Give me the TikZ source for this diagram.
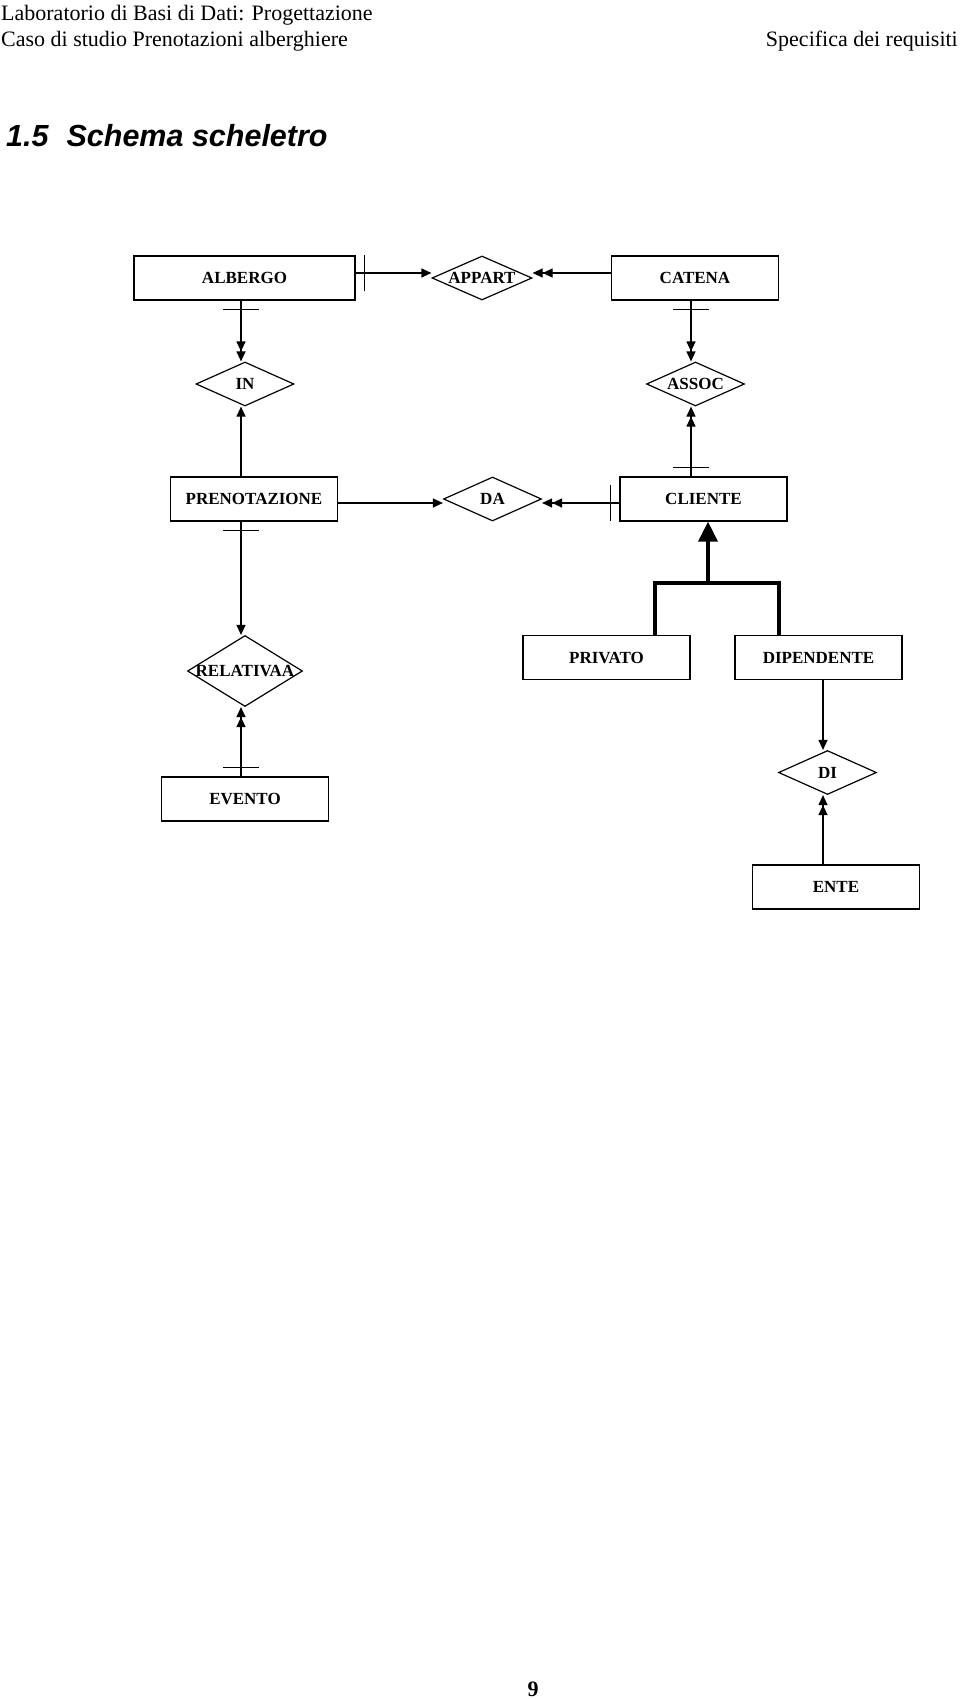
\documentclass[tikz,border=0pt]{standalone}
\usepackage{fontspec}
\setmainfont{Liberation Serif}
\newfontfamily\headsans{Liberation Sans}
\usetikzlibrary{arrows.meta,shapes.geometric,decorations.markings}
\tikzset{
  ent/.style={draw,line width=1.2pt,minimum width=167pt,minimum height=44pt,inner sep=0pt,
    font=\fontsize{17}{17}\selectfont\bfseries},
  rel/.style={diamond,draw,line width=1.2pt,minimum width=98pt,minimum height=44pt,inner sep=0pt,
    font=\fontsize{17}{17}\selectfont\bfseries},
  link/.style={line width=1.2pt},
  one/.style={-{Triangle[length=10pt,width=9pt]}},
  many/.style={-{Triangle[length=10pt,width=9pt]Triangle[length=10pt,width=9pt]}},
  onebar/.style={postaction={decorate},
    decoration={markings,mark=at position 9pt with {\draw[-,line width=1.2pt] (0,-18pt) -- (0,18pt);}}},
  gen/.style={line width=3.5pt},
  hdr/.style={inner sep=0pt,font=\fontsize{22}{26}\selectfont},
}

\begin{document}
\begin{tikzpicture}[x=1pt,y=-1pt]
  \useasboundingbox (0,0) rectangle (960,1699);
  % page header
  \node[hdr,anchor=base west] (lab) at (1,20.5) {Laboratorio di Basi di Dati: Progettazione};
  \node[hdr,anchor=base west] (caso) at (1,46.5) {Caso di studio Prenotazioni alberghiere};
  \node[hdr,anchor=base east] (spec) at (958,46.5) {Specifica dei requisiti};
  \node[inner sep=0pt,anchor=base west,font=\headsans\fontsize{30.5}{30.5}\selectfont\bfseries\itshape]
    (title) at (6,147) {1.5\hspace{18pt}Schema scheletro};
  % entities
  \node[ent,minimum width=221pt] (ALBERGO) at (244.5,278) {ALBERGO};
  \node[ent] (CATENA) at (695,278) {CATENA};
  \node[ent] (PRENOTAZIONE) at (254,499) {PRENOTAZIONE};
  \node[ent] (CLIENTE) at (703.5,499) {CLIENTE};
  \node[ent] (EVENTO) at (245,799) {EVENTO};
  \node[ent] (PRIVATO) at (606.5,657.5) {PRIVATO};
  \node[ent] (DIPENDENTE) at (818.5,657.5) {DIPENDENTE};
  \node[ent] (ENTE) at (836,887) {ENTE};
  % relationships
  \node[rel,minimum width=100pt] (APPART) at (482,278) {\makebox[0pt]{APPART}};
  \node[rel] (IN) at (245,384) {\makebox[0pt]{IN}};
  \node[rel] (ASSOC) at (695.5,384) {\makebox[0pt]{ASSOC}};
  \node[rel] (DA) at (492.5,499) {\makebox[0pt]{DA}};
  \node[rel,minimum width=115pt,minimum height=71pt] (RELATIVAA) at (245,671) {\makebox[0pt]{RELATIVAA}};
  \node[rel] (DI) at (827.5,772.5) {\makebox[0pt]{DI}};
  % rows and columns of the connectors
  \coordinate (rowT) at (0,273);
  \coordinate (rowM) at (0,503);
  \coordinate (colL) at (241,0);
  \coordinate (colR) at (691,0);
  \coordinate (colD) at (823,0);
  % top row
  \draw[link,one,onebar] (ALBERGO.east |- rowT) -- (APPART.west |- rowT);
  \draw[link,many] (CATENA.west |- rowT) -- (APPART.east |- rowT);
  % left column
  \draw[link,many,onebar] (ALBERGO.south -| colL) -- (IN.north -| colL);
  \draw[link,one] (PRENOTAZIONE.north -| colL) -- (IN.south -| colL);
  \draw[link,one,onebar] (PRENOTAZIONE.south -| colL) -- (RELATIVAA.north -| colL);
  \draw[link,many,onebar] (EVENTO.north -| colL) -- (RELATIVAA.south -| colL);
  % right column
  \draw[link,many,onebar] (CATENA.south -| colR) -- (ASSOC.north -| colR);
  \draw[link,many,onebar] (CLIENTE.north -| colR) -- (ASSOC.south -| colR);
  % middle row
  \draw[link,one] (PRENOTAZIONE.east |- rowM) -- (DA.west |- rowM);
  \draw[link,many,onebar] (CLIENTE.west |- rowM) -- (DA.east |- rowM);
  % DIPENDENTE - DI - ENTE
  \draw[link,one] (DIPENDENTE.south -| colD) -- (DI.north -| colD);
  \draw[link,many] (ENTE.north -| colD) -- (DI.south -| colD);
  % generalisation of CLIENTE
  \coordinate (isaL) at (655,583);
  \coordinate (isaR) at (779,583);
  \coordinate (isaJ) at (708,583);
  \draw[gen] (PRIVATO.north -| isaL) -- (isaL) -- (isaR) -- (DIPENDENTE.north -| isaR);
  \draw[gen,-{Triangle[length=20pt,width=19pt]}] (isaJ) -- (CLIENTE.south -| isaJ);
  % page number
  \node[inner sep=0pt,anchor=base,font=\fontsize{22}{22}\selectfont\bfseries] (pagenum) at (533,1696) {9};
\end{tikzpicture}
\end{document}
